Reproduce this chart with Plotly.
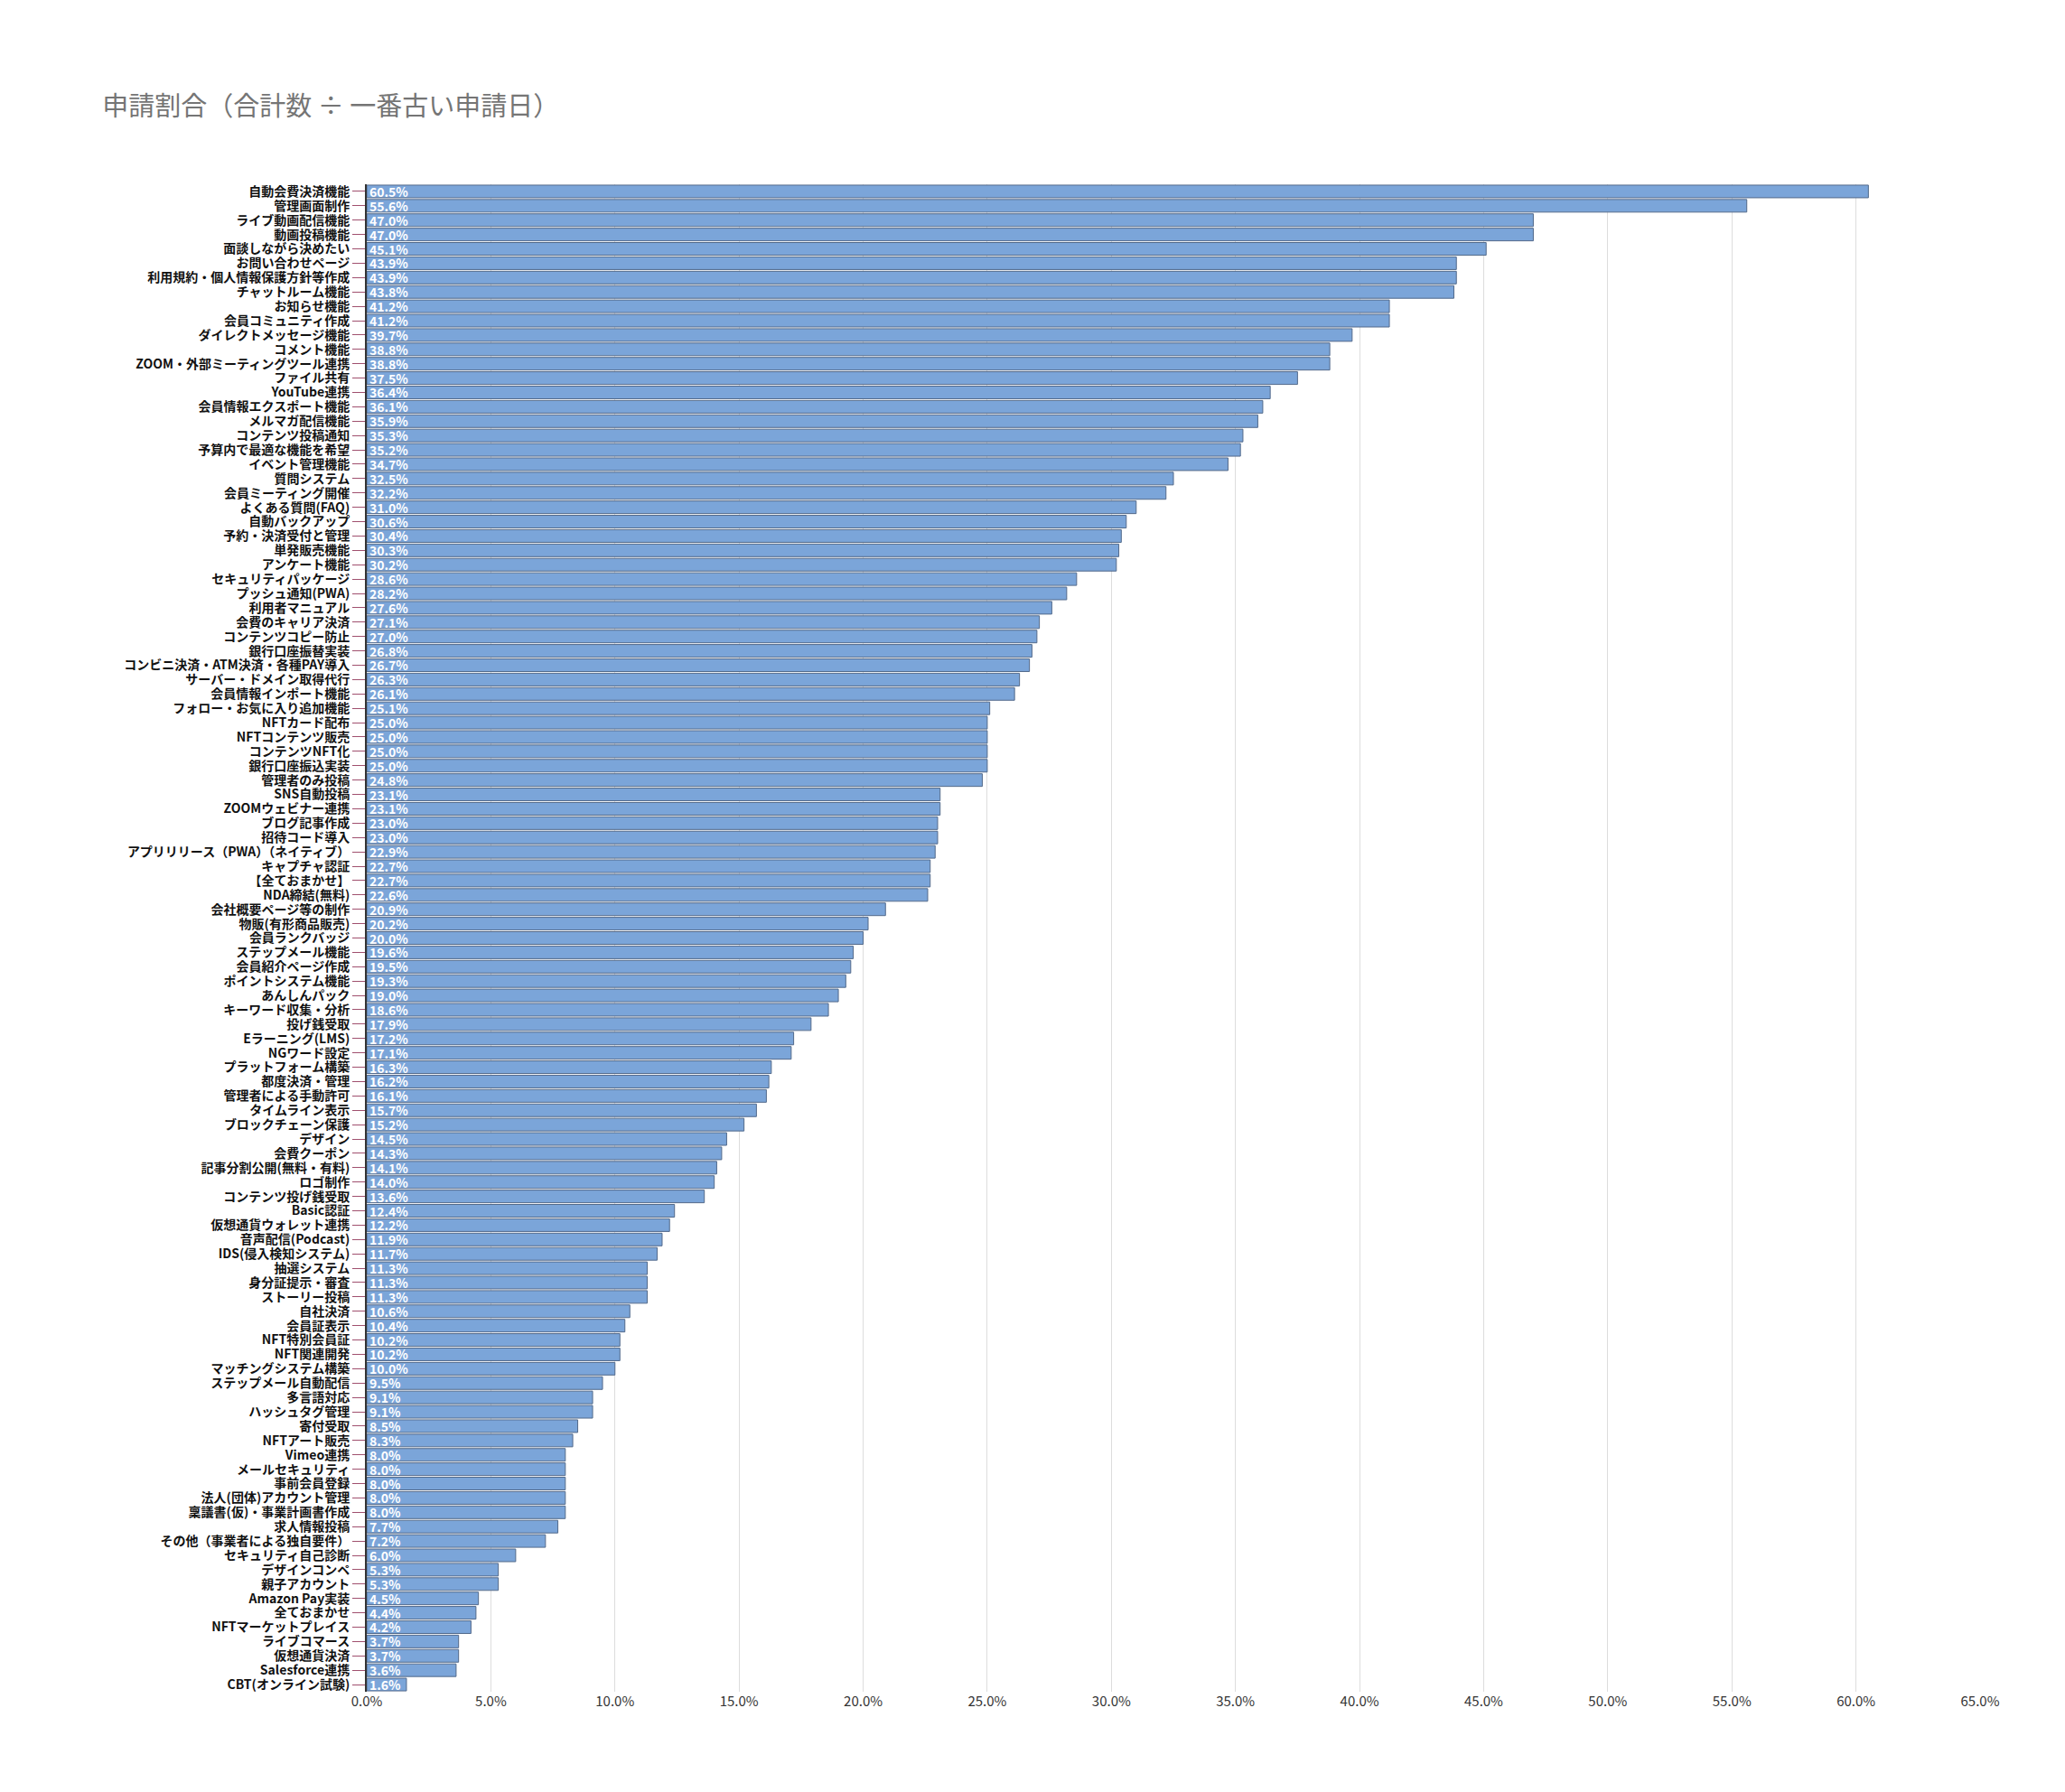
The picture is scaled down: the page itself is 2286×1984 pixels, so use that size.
import plotly.graph_objects as go

# 機能名と申請割合(%)  上から順
features = [
    "自動会費決済機能", "管理画面制作", "ライブ動画配信機能", "動画投稿機能", "面談しながら決めたい",
    "お問い合わせページ", "利用規約・個人情報保護方針等作成", "チャットルーム機能", "お知らせ機能", "会員コミュニティ作成",
    "ダイレクトメッセージ機能", "コメント機能", "ZOOM・外部ミーティングツール連携", "ファイル共有", "YouTube連携",
    "会員情報エクスポート機能", "メルマガ配信機能", "コンテンツ投稿通知", "予算内で最適な機能を希望", "イベント管理機能",
    "質問システム", "会員ミーティング開催", "よくある質問(FAQ)", "自動バックアップ", "予約・決済受付と管理",
    "単発販売機能", "アンケート機能", "セキュリティパッケージ", "プッシュ通知(PWA)", "利用者マニュアル",
    "会費のキャリア決済", "コンテンツコピー防止", "銀行口座振替実装", "コンビニ決済・ATM決済・各種PAY導入", "サーバー・ドメイン取得代行",
    "会員情報インポート機能", "フォロー・お気に入り追加機能", "NFTカード配布", "NFTコンテンツ販売", "コンテンツNFT化",
    "銀行口座振込実装", "管理者のみ投稿", "SNS自動投稿", "ZOOMウェビナー連携", "ブログ記事作成",
    "招待コード導入", "アプリリリース（PWA）（ネイティブ）", "キャプチャ認証", "【全ておまかせ】", "NDA締結(無料)",
    "会社概要ページ等の制作", "物販(有形商品販売)", "会員ランクバッジ", "ステップメール機能", "会員紹介ページ作成",
    "ポイントシステム機能", "あんしんパック", "キーワード収集・分析", "投げ銭受取", "Eラーニング(LMS)",
    "NGワード設定", "プラットフォーム構築", "都度決済・管理", "管理者による手動許可", "タイムライン表示",
    "ブロックチェーン保護", "デザイン", "会費クーポン", "記事分割公開(無料・有料)", "ロゴ制作",
    "コンテンツ投げ銭受取", "Basic認証", "仮想通貨ウォレット連携", "音声配信(Podcast)", "IDS(侵入検知システム)",
    "抽選システム", "身分証提示・審査", "ストーリー投稿", "自社決済", "会員証表示",
    "NFT特別会員証", "NFT関連開発", "マッチングシステム構築", "ステップメール自動配信", "多言語対応",
    "ハッシュタグ管理", "寄付受取", "NFTアート販売", "Vimeo連携", "メールセキュリティ",
    "事前会員登録", "法人(団体)アカウント管理", "稟議書(仮)・事業計画書作成", "求人情報投稿", "その他（事業者による独自要件）",
    "セキュリティ自己診断", "デザインコンペ", "親子アカウント", "Amazon Pay実装", "全ておまかせ",
    "NFTマーケットプレイス", "ライブコマース", "仮想通貨決済", "Salesforce連携", "CBT(オンライン試験)",
]
ratios = [
    60.5, 55.6, 47.0, 47.0, 45.1, 43.9, 43.9, 43.8, 41.2, 41.2,
    39.7, 38.8, 38.8, 37.5, 36.4, 36.1, 35.9, 35.3, 35.2, 34.7,
    32.5, 32.2, 31.0, 30.6, 30.4, 30.3, 30.2, 28.6, 28.2, 27.6,
    27.1, 27.0, 26.8, 26.7, 26.3, 26.1, 25.1, 25.0, 25.0, 25.0,
    25.0, 24.8, 23.1, 23.1, 23.0, 23.0, 22.9, 22.7, 22.7, 22.6,
    20.9, 20.2, 20.0, 19.6, 19.5, 19.3, 19.0, 18.6, 17.9, 17.2,
    17.1, 16.3, 16.2, 16.1, 15.7, 15.2, 14.5, 14.3, 14.1, 14.0,
    13.6, 12.4, 12.2, 11.9, 11.7, 11.3, 11.3, 11.3, 10.6, 10.4,
    10.2, 10.2, 10.0, 9.5, 9.1, 9.1, 8.5, 8.3, 8.0, 8.0,
    8.0, 8.0, 8.0, 7.7, 7.2, 6.0, 5.3, 5.3, 4.5, 4.4,
    4.2, 3.7, 3.7, 3.6, 1.6,
]
tick_vals = [0, 5, 10, 15, 20, 25, 30, 35, 40, 45, 50, 55, 60, 65]

fig = go.Figure(go.Bar(
    x=ratios, y=features, orientation="h",
    marker=dict(color="#7ba5d9", line=dict(color="#52698a", width=1)),
    text=[f"{v:.1f}%" for v in ratios],
    textposition="inside", insidetextanchor="start",
    textfont=dict(color="white", size=14, family="Noto Sans CJK JP", weight="bold"),
    textangle=0,
))

fig.update_layout(
    width=2286, height=1984,
    paper_bgcolor="white", plot_bgcolor="white",
    margin=dict(l=398, r=102, t=196, b=119),
    title=dict(text="申請割合（合計数 ÷ 一番古い申請日）", x=0.046, y=0.95, xanchor="left",
               font=dict(size=29, color="#757575", family="Noto Sans CJK JP")),
    font=dict(family="Noto Sans CJK JP", color="#222"),
    bargap=0.12,
    uniformtext=dict(minsize=12, mode="show"),
    showlegend=False,
)
fig.update_xaxes(range=[0, 65], tickvals=tick_vals, ticktext=[f"{v:.1f}%" for v in tick_vals],
                 showgrid=True, gridcolor="#dddddd", zeroline=False,
                 tickfont=dict(size=15, color="#333"), showline=False)
fig.update_yaxes(autorange="reversed", tickmode="array", tickvals=features, ticktext=features,
                 tickfont=dict(size=14, color="#111", weight="bold"), ticks="outside", ticklen=14,
                 tickcolor="#a0506e", showline=True, linecolor="#333", linewidth=2)

fig.write_html("out.html")
